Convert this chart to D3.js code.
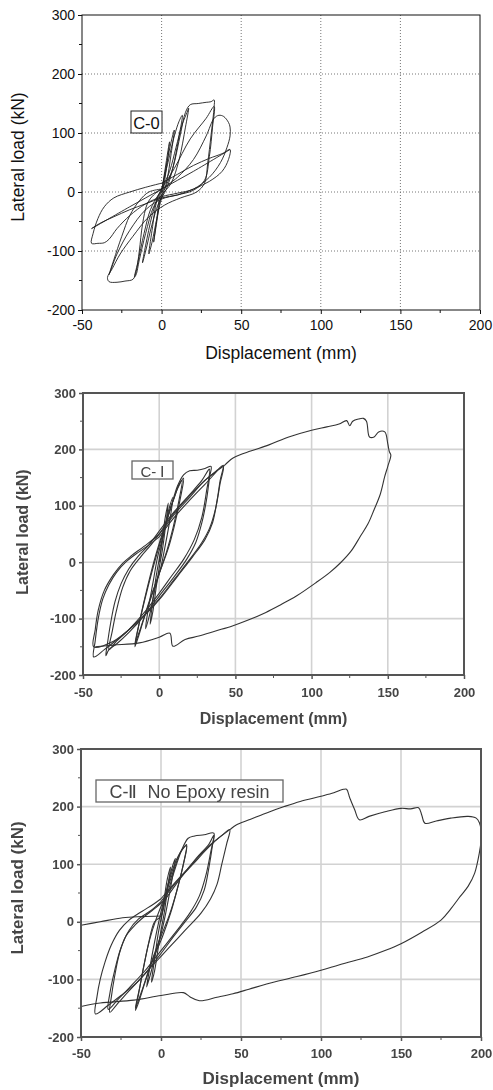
<!DOCTYPE html>
<html><head><meta charset="utf-8">
<script src="https://cdn.jsdelivr.net/npm/d3@7/dist/d3.min.js"></script>
<style>
html,body{margin:0;padding:0;background:#fff;}
svg{display:block;}
</style></head>
<body>
<svg id="chart" width="493" height="1090"></svg>
<script>
// ---------- shared axis data ----------
const xTicks = [-50, 0, 50, 100, 150, 200];
const yTicks = [-200, -100, 0, 100, 200, 300];
const xMinor = [-25, 25, 75, 125, 175];
const yMinor = [-150, -50, 50, 150, 250];
const xTitle = "Displacement (mm)";
const yTitle = "Lateral load (kN)";
const specimenLabels = ["C-0", "C- Ⅰ", "C-Ⅱ  No Epoxy resin"];

// ---------- C-0 hysteresis (displacement mm, load kN), in loading order ----------
const c0Cycles = [
 [[0,0],[2,35],[4,70],[5,85],[3,40],[1,5],[-1,-15],[-3,-50],[-5,-85],[-3,-45],[-1,-5],[0,0]],
 [[0,0],[3,45],[6,85],[8,105],[6,65],[3,15],[0,-10],[-3,-45],[-6,-85],[-8,-105],[-6,-65],[-3,-15],[0,5]],
 [[0,5],[4,50],[8,95],[11,120],[13,130],[11,95],[7,40],[3,5],[-2,-20],[-6,-55],[-10,-100],[-12,-120],[-10,-90],[-6,-40],[-2,-5],[0,5]],
 [[0,5],[5,35],[9,75],[13,115],[16,135],[17,142],[15,110],[11,55],[6,15],[0,-5],[-5,-25],[-10,-70],[-14,-115],[-16,-140],[-17,-144],[-15,-120],[-11,-70],[-7,-30],[-2,-5],[2,5]],
 [[2,5],[7,40],[12,100],[15,135],[18,148],[23,150],[28,152],[31,153],[33,156],[33,145],[31,95],[29,50],[27,15],[22,0],[12,-10],[2,-22],[-8,-42],[-18,-75],[-26,-105],[-31,-130],[-34,-145],[-33,-152],[-28,-153],[-23,-151],[-18,-148],[-16,-135],[-14,-100],[-12,-55],[-9,-20],[-5,-5],[0,5]],
 [[0,5],[8,40],[18,90],[28,125],[33,145],[32,110],[30,60],[27,20],[20,3],[10,-5],[0,-12],[-10,-30],[-20,-65],[-28,-105],[-33,-140],[-30,-115],[-25,-75],[-20,-40],[-14,-15],[-8,0],[0,5]],
 [[0,5],[10,25],[20,55],[28,95],[33,125],[36,130],[39,128],[42,118],[43,110],[43,95],[41,75],[37,50],[30,25],[20,5],[10,-2],[0,-8],[-10,-20],[-20,-40],[-28,-62],[-33,-80],[-36,-86],[-40,-87],[-44,-87],[-43,-70],[-40,-45],[-36,-25],[-30,-10],[-20,0],[-10,8],[0,15]],
 [[0,15],[10,30],[20,45],[30,57],[38,65],[43,72],[42,55],[38,35],[30,18],[20,5],[10,-5],[0,-10],[-10,-20],[-20,-30],[-30,-42],[-38,-52],[-44,-62],[-20,-25],[0,5],[20,35],[43,72]]
];

// ---------- C-I hysteresis ----------
const c1Cycles = [
 [[0,0],[2,40],[4,80],[6,105],[4,60],[2,20],[0,-10],[-2,-45],[-4,-85],[-6,-110],[-4,-65],[-2,-25],[0,5]],
 [[0,5],[3,50],[6,90],[9,115],[7,75],[4,30],[1,-10],[-3,-50],[-6,-90],[-9,-118],[-7,-80],[-4,-35],[-1,10],[2,40]],
 [[2,40],[6,85],[10,115],[13,138],[15,145],[13,110],[9,60],[5,20],[0,-20],[-5,-60],[-10,-100],[-14,-135],[-16,-150],[-14,-120],[-10,-70],[-6,-25],[-2,15],[2,50]],
 [[2,50],[8,100],[12,130],[16,149],[14,115],[10,65],[6,25],[0,-20],[-6,-65],[-12,-115],[-16,-145],[-12,-95],[-7,-40],[-2,10],[3,55]],
 [[3,55],[8,100],[12,135],[16,155],[20,162],[25,163],[30,166],[34,170],[33,150],[31,110],[28,70],[24,35],[18,5],[10,-25],[0,-60],[-10,-95],[-20,-125],[-28,-145],[-33,-155],[-35,-166],[-34,-145],[-32,-110],[-29,-70],[-25,-38],[-20,-12],[-14,10],[-7,30],[0,55]],
 [[0,55],[10,90],[20,120],[28,145],[33,165],[31,125],[28,80],[23,40],[16,5],[8,-25],[0,-55],[-10,-90],[-20,-120],[-28,-140],[-33,-155],[-31,-125],[-28,-85],[-24,-45],[-19,-15],[-12,10],[-5,32],[0,50]],
 [[0,50],[10,88],[20,118],[30,145],[38,163],[42,172],[40,145],[38,110],[35,70],[30,40],[22,10],[12,-25],[2,-60],[-8,-90],[-18,-115],[-28,-138],[-36,-155],[-43,-168],[-42,-140],[-40,-100],[-37,-65],[-33,-40],[-28,-18],[-22,0],[-15,15],[-8,28],[0,45]],
 [[0,45],[10,80],[20,110],[30,138],[42,170],[40,140],[37,95],[33,60],[28,35],[20,5],[10,-30],[0,-65],[-10,-95],[-20,-120],[-30,-140],[-43,-150],[-42,-120],[-40,-85],[-36,-50],[-30,-22],[-24,-2],[-18,12],[-10,28],[0,50],[10,85],[20,115],[30,145],[43,172]],
 [[43,172],[47,182],[50,187],[60,197],[72,208],[85,222],[100,234],[110,240],[118,245],[123,251],[125,242],[127,250],[131,254],[134,255],[136,250],[138,222],[141,222],[144,231],[148,231],[150,210],[151,196],[152,190],[150,170],[148,152],[145,120],[141,93],[137,68],[132,46],[126,20],[119,-1],[112,-18],[103,-36],[90,-60],[80,-75],[70,-89],[58,-103],[48,-113],[37,-122],[26,-131],[17,-137],[9,-149],[7,-126],[0,-133],[-13,-143],[-30,-147],[-42,-150]]
];

// ---------- C-II hysteresis ----------
const c2Cycles = [
 [[0,0],[2,40],[4,75],[6,95],[4,55],[2,15],[0,-15],[-2,-50],[-4,-85],[-6,-105],[-4,-65],[-2,-25],[0,5]],
 [[0,5],[3,45],[6,85],[9,110],[7,75],[4,30],[1,-10],[-3,-50],[-6,-85],[-9,-113],[-7,-80],[-4,-35],[-1,5],[2,40]],
 [[2,40],[6,80],[10,110],[14,128],[16,134],[14,100],[10,55],[6,15],[1,-25],[-5,-65],[-10,-105],[-14,-140],[-16,-154],[-14,-125],[-11,-80],[-7,-30],[-3,5],[2,40]],
 [[2,40],[8,90],[13,125],[16,132],[14,100],[10,55],[5,10],[0,-25],[-6,-70],[-12,-120],[-16,-150],[-13,-110],[-8,-40],[-4,0],[0,10],[2,30]],
 [[2,30],[8,85],[13,125],[17,145],[21,149],[27,151],[33,154],[32,130],[30,95],[27,55],[22,25],[15,0],[8,-25],[0,-55],[-10,-90],[-20,-120],[-28,-145],[-32,-157],[-31,-130],[-29,-95],[-26,-55],[-22,-25],[-16,-5],[-10,10],[-3,25],[3,40]],
 [[3,40],[12,75],[22,110],[30,135],[33,150],[31,120],[28,80],[24,45],[18,15],[10,-15],[0,-50],[-10,-85],[-20,-115],[-27,-135],[-33,-152],[-32,-125],[-29,-85],[-25,-45],[-20,-15],[-14,5],[-6,20],[0,35]],
 [[0,35],[10,70],[20,100],[30,130],[38,150],[43,160],[41,135],[38,100],[35,65],[31,40],[25,15],[15,-15],[5,-45],[-5,-75],[-15,-105],[-25,-128],[-33,-145],[-41,-160],[-40,-130],[-38,-100],[-35,-70],[-31,-40],[-26,-15],[-20,3],[-12,18],[-5,30],[0,40]],
 [[0,40],[10,72],[20,102],[30,132],[43,160],[47,168],[55,177],[66,189],[77,200],[87,209],[100,218],[108,224],[114,230],[116,230],[118,215],[121,195],[124,177],[130,183],[140,191],[150,197],[156,196],[161,198],[163,185],[165,171],[172,175],[181,180],[192,183],[197,180],[199,172],[200,160],[200,140],[199,120],[196,84],[192,62],[187,44],[181,22],[175,3],[163,-18],[150,-38],[140,-50],[129,-61],[115,-72],[100,-84],[85,-95],[66,-108],[55,-117],[45,-125],[35,-131],[24,-137],[18,-130],[14,-123],[0,-128],[-17,-136],[-38,-141],[-50,-147]],
 [[-50,-6],[-38,0],[-24,7],[-12,9],[0,10]]
];

// ---------- panel layout & styles ----------
const panels = [
 {cycles:c0Cycles, label:specimenLabels[0], left:82, right:480, top:15, bottom:310,
  xTitleY:353, yTitleX:18, yTitleY:157, tickFont:14, titleFont:17.5, labelFont:16.5, titleBold:false,
  box:[131,111,31,22], axisColor:"#111", axisWidth:1, grid:"dotted", curveColor:"#1e1e1e", curveWidth:0.9,
  textColor:"#111", blur:false, xLabY:325},
 {cycles:c1Cycles, label:specimenLabels[1], left:83, right:464, top:393, bottom:675,
  xTitleY:718, yTitleX:22, yTitleY:532, tickFont:13, titleFont:16, labelFont:15, titleBold:true,
  box:[132,461,41,18], axisColor:"#555", axisWidth:2, grid:"solid", curveColor:"#333", curveWidth:1.1,
  textColor:"#444", blur:true, xLabY:692},
 {cycles:c2Cycles, label:specimenLabels[2], left:81, right:481, top:749, bottom:1037,
  xTitleY:1078, yTitleX:17, yTitleY:888, tickFont:13, titleFont:17, labelFont:18, titleBold:true,
  box:[96,780,187,22], axisColor:"#555", axisWidth:2, grid:"solid", curveColor:"#333", curveWidth:1.1,
  textColor:"#444", blur:true, xLabY:1053}
];

const svg = d3.select("#chart");
const font = "'Liberation Sans', Arial, Helvetica, sans-serif";
const defs = svg.append("defs");
defs.append("filter").attr("id","soft").attr("x","-5%").attr("y","-5%").attr("width","110%").attr("height","110%")
  .append("feGaussianBlur").attr("stdDeviation",0.45);
const fmt = d => String(d);

panels.forEach((p, i) => {
  const x = d3.scaleLinear().domain([-50, 200]).range([p.left, p.right]);
  const y = d3.scaleLinear().domain([-200, 300]).range([p.bottom, p.top]);
  const g = svg.append("g").attr("filter", p.blur ? "url(#soft)" : null);

  defs.append("clipPath").attr("id","clip"+i).append("rect")
    .attr("x",p.left).attr("y",p.top).attr("width",p.right-p.left).attr("height",p.bottom-p.top);

  // grid
  const gridG = g.append("g");
  const gStyle = sel => p.grid === "dotted"
     ? sel.attr("stroke","#666").attr("stroke-width",0.9).attr("stroke-dasharray","1,2")
     : sel.attr("stroke","#d2d2d2").attr("stroke-width",1.6);
  gridG.selectAll(".gx").data(xTicks.slice(1,-1)).join("line")
    .attr("x1",d=>x(d)).attr("x2",d=>x(d)).attr("y1",p.top).attr("y2",p.bottom).call(gStyle);
  gridG.selectAll(".gy").data(yTicks.slice(1,-1)).join("line")
    .attr("y1",d=>y(d)).attr("y2",d=>y(d)).attr("x1",p.left).attr("x2",p.right).call(gStyle);

  // curves
  const line = d3.line().x(d=>x(d[0])).y(d=>y(d[1])).curve(d3.curveCatmullRom.alpha(0.5));
  g.append("g").attr("clip-path","url(#clip"+i+")")
    .selectAll("path").data(p.cycles).join("path")
    .attr("d", line).attr("fill","none").attr("stroke",p.curveColor)
    .attr("stroke-width",p.curveWidth).attr("stroke-linejoin","round");

  // axes
  const xAxis = d3.axisBottom(x).tickValues(xTicks).tickSize(4).tickPadding(3).tickFormat(fmt);
  const yAxis = d3.axisLeft(y).tickValues(yTicks).tickSize(4).tickPadding(3).tickFormat(fmt);
  const xa = g.append("g").attr("transform",`translate(0,${p.bottom})`).call(xAxis);
  const ya = g.append("g").attr("transform",`translate(${p.left},0)`).call(yAxis);
  [xa, ya].forEach(a => {
    a.select(".domain").remove();
    a.selectAll(".tick line").attr("stroke",p.axisColor).attr("stroke-width",p.axisWidth===2?1.5:1);
    a.selectAll(".tick text").attr("fill",p.textColor).attr("font-family",font)
      .attr("font-size",p.tickFont).attr("font-weight", p.blur ? "bold" : "normal");
  });
  xa.selectAll(".tick text").attr("y", p.xLabY - p.bottom - p.tickFont*0.35).attr("dy","0.71em");
  // minor ticks
  g.append("g").selectAll("line").data(xMinor).join("line")
    .attr("x1",d=>x(d)).attr("x2",d=>x(d)).attr("y1",p.bottom).attr("y2",p.bottom+3)
    .attr("stroke",p.axisColor).attr("stroke-width",1);
  g.append("g").selectAll("line").data(yMinor).join("line")
    .attr("y1",d=>y(d)).attr("y2",d=>y(d)).attr("x1",p.left).attr("x2",p.left-3)
    .attr("stroke",p.axisColor).attr("stroke-width",1);

  // frame
  g.append("rect").attr("x",p.left).attr("y",p.top).attr("width",p.right-p.left).attr("height",p.bottom-p.top)
    .attr("fill","none").attr("stroke",p.axisColor).attr("stroke-width",p.axisWidth);

  // titles
  g.append("text").attr("x",(p.left+p.right)/2).attr("y",p.xTitleY).attr("text-anchor","middle")
    .attr("dominant-baseline","central")
    .attr("font-family",font).attr("font-size",p.titleFont).attr("fill",p.textColor)
    .attr("font-weight", p.titleBold ? "bold" : "normal").text(xTitle);
  g.append("text").attr("transform",`translate(${p.yTitleX},${p.yTitleY}) rotate(-90)`)
    .attr("text-anchor","middle").attr("dominant-baseline","central")
    .attr("font-family",font).attr("font-size",p.titleFont).attr("fill",p.textColor)
    .attr("font-weight", p.titleBold ? "bold" : "normal").text(yTitle);

  // specimen label box
  const [bx,by,bw,bh] = p.box;
  g.append("rect").attr("x",bx).attr("y",by).attr("width",bw).attr("height",bh)
    .attr("fill","#fff").attr("stroke", p.blur ? "#666" : "#222").attr("stroke-width", p.blur ? 1.3 : 1);
  g.append("text").attr("x",bx+bw/2).attr("y",by+bh/2+1).attr("text-anchor","middle")
    .attr("dominant-baseline","central").attr("font-family",font).attr("font-size",p.labelFont)
    .attr("fill",p.textColor).attr("xml:space","preserve").style("white-space","pre").text(p.label);
});
</script>
</body></html>
